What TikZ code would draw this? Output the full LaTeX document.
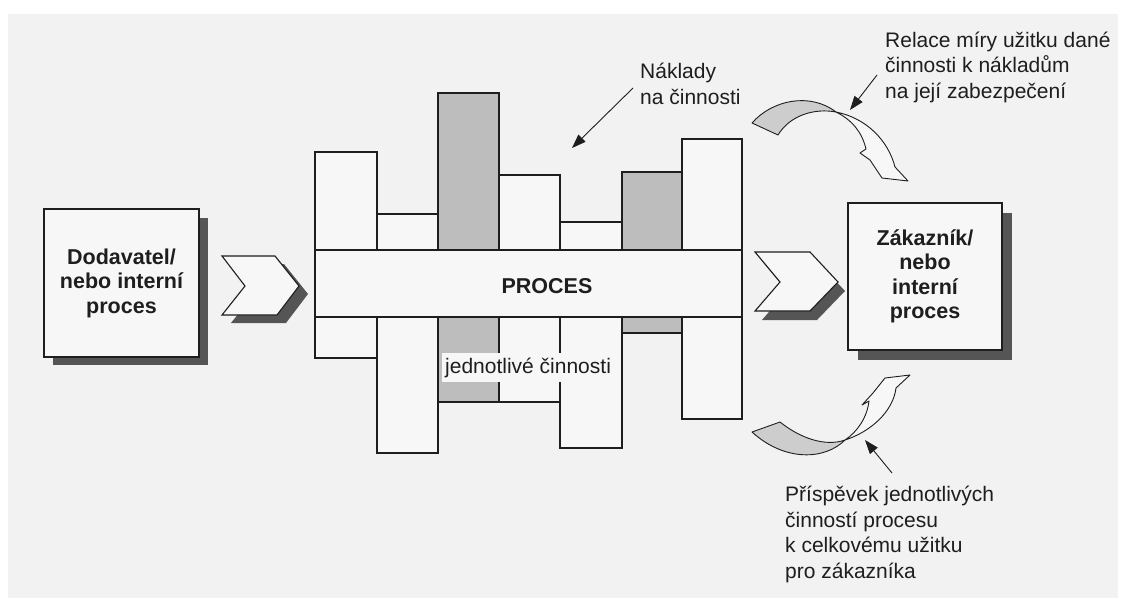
\documentclass[tikz,border=0pt]{standalone}
\usepackage{fontspec}
\setmainfont{Liberation Sans}
\usetikzlibrary{arrows.meta}

\definecolor{paper}{HTML}{F2F2F2}
\definecolor{card}{HTML}{F7F7F7}
\definecolor{ink}{HTML}{1E1E1E}
\definecolor{costgray}{HTML}{BDBDBD}
\definecolor{shadowgray}{HTML}{555555}
\definecolor{ribbongray}{HTML}{CDCDCD}

\newcommand{\labelfont}{\fontsize{21}{25.5}\selectfont}
\newcommand{\titlefont}{\fontsize{21.5}{24.5}\selectfont\bfseries}

\begin{document}
\begin{tikzpicture}[x=1pt,y=-1pt,
  outline/.style={draw=ink, line width=1.1pt, line join=miter},
  plain/.style={outline, fill=card},
  costcol/.style={outline, fill=costgray},
  shade/.style={fill=shadowgray},
  ribbon back/.style={draw=ink, line width=0.9pt, fill=ribbongray, line join=round},
  ribbon front/.style={draw=ink, line width=0.9pt, fill=card, line join=round},
  note/.style={font=\labelfont, text=ink, align=left, inner sep=0pt, anchor=base west},
  pointer/.style={draw=ink, line width=0.9pt, -{Triangle[length=14pt,width=10pt]}},
  title/.style={plain, font=\titlefont, text=ink, align=center, inner sep=0pt}
]
\useasboundingbox (0,0) rectangle (1126,598);
\fill[paper] (8,14) rectangle (1118,598);

% supplier box with drop shadow
\fill[shade] (53,218) rectangle (208,365);
\node[title, minimum width=155pt, minimum height=148pt] (supplier) at (121.5,283)
  {Dodavatel/\\nebo interní\\proces};

% input chevron
\fill[shade, shift={(9,8)}] (222,256) -- (275,256) -- (299,286) -- (277,315) -- (222,315) -- (245,286) -- cycle;
\draw[plain] (222,256) -- (275,256) -- (299,286) -- (277,315) -- (222,315) -- (245,286) -- cycle;

% activity columns of the process
\draw[plain]   (315,152) rectangle (377,358);
\draw[plain]   (377,214) rectangle (438,453);
\draw[costcol] (438,93)  rectangle (499,402);
\draw[plain]   (499,175) rectangle (560,402);
\draw[plain]   (560,222) rectangle (622,448);
\draw[costcol] (622,172) rectangle (682,333);
\draw[plain]   (682,139) rectangle (742,419);

% process bar across the columns
\draw[plain] (315,250) rectangle (742,317);
\node[font=\titlefont, text=ink, anchor=base] (process) at (547,293) {PROCES};
\node[font=\labelfont, text=ink, fill=card, inner xsep=3pt, inner ysep=5pt, anchor=base west]
  (steps) at (442,373) {jednotlivé činnosti};

% output chevron
\fill[shade, shift={(7,9)}] (755,252) -- (810,252) -- (838,282) -- (810,311) -- (755,311) -- (780,282) -- cycle;
\draw[plain] (755,252) -- (810,252) -- (838,282) -- (810,311) -- (755,311) -- (780,282) -- cycle;

% customer box with drop shadow
\fill[shade] (858,213) rectangle (1012,360);
\node[title, minimum width=154pt, minimum height=147pt] (customer) at (925,276.5)
  {Zákazník/\\nebo\\interní\\proces};

% twisted ribbon arrow above the customer box
\draw[ribbon back] (752,123) .. controls (772,100) and (810,92) .. (836,112)
  .. controls (815,108) and (790,115) .. (778,135) -- cycle;
\draw[ribbon front] (836,112) .. controls (866,118) and (888,140) .. (895,167)
  -- (908,181) -- (882,178) -- (870,160) -- (860,153) -- (866,149)
  .. controls (862,132) and (852,120) .. cycle;

% twisted ribbon arrow below the customer box
\draw[ribbon back] (780,422) .. controls (800,438) and (825,447) .. (845,440)
  .. controls (825,460) and (785,462) .. (752,432) -- cycle;
\draw[ribbon front] (845,440) .. controls (870,432) and (893,412) .. (896,388)
  -- (910,375) -- (885,378) -- (873,393) -- (862,405) -- (869,401)
  .. controls (867,418) and (857,432) .. cycle;

% annotations (anchored at the baseline of their last line)
\node[note] (costs) at (640,104) {Náklady\\na činnosti};
\node[note] (ratio) at (885,98) {Relace míry užitku dané\\činnosti k nákladům\\na její zabezpečení};
\node[note] (contrib) at (785,578) {Příspěvek jednotlivých\\činností procesu\\k celkovému užitku\\pro zákazníka};

\coordinate (costs-from) at (633,88);
\coordinate (costs-to) at (572,148);
\coordinate (ratio-from) at (877,75);
\coordinate (ratio-to) at (850,110);
\coordinate (contrib-from) at (892,473);
\coordinate (contrib-to) at (865,440);
\draw[pointer] (costs-from) -- (costs-to);
\draw[pointer] (ratio-from) -- (ratio-to);
\draw[pointer] (contrib-from) -- (contrib-to);
\end{tikzpicture}
\end{document}
